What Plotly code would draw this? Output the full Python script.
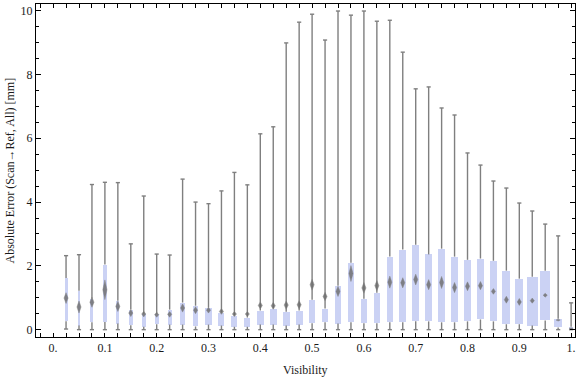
import plotly.graph_objects as go

# ---------------- data ----------------
visibility = [0.025, 0.05, 0.075, 0.1, 0.125, 0.15, 0.175, 0.2, 0.225, 0.25,
              0.275, 0.3, 0.325, 0.35, 0.375, 0.4, 0.425, 0.45, 0.475, 0.5,
              0.525, 0.55, 0.575, 0.6, 0.625, 0.65, 0.675, 0.7, 0.725, 0.75,
              0.775, 0.8, 0.825, 0.85, 0.875, 0.9, 0.925, 0.95, 0.975, 1.0]

whisker_min = [0.02, 0.0, 0.0, 0.0, 0.0, 0.0, 0.0, 0.0, 0.0, 0.0,
               0.0, 0.0, 0.0, 0.0, 0.0, 0.0, 0.0, 0.0, 0.0, 0.0,
               0.0, 0.0, 0.0, 0.0, 0.0, 0.0, 0.0, 0.0, 0.0, 0.0,
               0.0, 0.0, 0.0, 0.0, 0.0, 0.0, 0.0, 0.0, 0.0, 0.0]

q1 = [0.26, 0.13, 0.23, 0.24, 0.19, 0.14, 0.09, 0.17, 0.16, 0.16,
      0.10, 0.16, 0.13, 0.09, 0.09, 0.16, 0.16, 0.13, 0.16, 0.20,
      0.23, 0.19, 0.23, 0.20, 0.20, 0.23, 0.23, 0.26, 0.26, 0.23,
      0.23, 0.26, 0.32, 0.26, 0.17, 0.17, 0.13, 0.29, 0.07, 0.01]

center = [0.99, 0.71, 0.86, 1.25, 0.73, 0.52, 0.49, 0.47, 0.48, 0.68,
          0.61, 0.61, 0.57, 0.49, 0.49, 0.76, 0.75, 0.77, 0.78, 1.41,
          1.04, 1.20, 1.76, 1.31, 1.38, 1.49, 1.47, 1.57, 1.41, 1.48,
          1.32, 1.36, 1.38, 1.20, 0.94, 0.87, 0.91, 1.08, 0.30, 0.04]

center_spread = [0.17, 0.19, 0.16, 0.31, 0.16, 0.11, 0.09, 0.08, 0.09, 0.13,
                 0.11, 0.09, 0.09, 0.08, 0.08, 0.11, 0.11, 0.13, 0.13, 0.17,
                 0.13, 0.16, 0.25, 0.17, 0.16, 0.19, 0.16, 0.17, 0.16, 0.19,
                 0.16, 0.14, 0.13, 0.09, 0.11, 0.11, 0.08, 0.06, 0.03, 0.02]

q3 = [1.62, 1.22, 0.97, 2.04, 0.91, 0.63, 0.50, 0.50, 0.63, 0.85,
      0.75, 0.69, 0.53, 0.44, 0.38, 0.60, 0.66, 0.56, 0.60, 0.94,
      0.66, 1.38, 2.10, 0.97, 1.16, 2.29, 2.51, 2.66, 2.36, 2.54,
      2.29, 2.19, 2.23, 2.16, 1.85, 1.60, 1.66, 1.85, 0.34, 0.09]

whisker_max = [2.32, 2.35, 4.55, 4.62, 4.61, 2.69, 4.19, 2.37, 2.34, 4.72,
               4.00, 3.95, 4.35, 4.93, 4.54, 6.14, 6.36, 8.99, 9.64, 9.89,
               9.08, 9.99, 9.86, 9.99, 9.67, 9.70, 8.70, 7.55, 7.61, 6.95,
               6.73, 5.54, 5.16, 4.66, 4.44, 3.97, 3.72, 3.31, 2.94, 0.84]

# relative sample weight (drives box width)
sample_weight = [0.29, 0.24, 0.29, 0.31, 0.29, 0.38, 0.38, 0.38, 0.38, 0.48,
                 0.54, 0.57, 0.57, 0.57, 0.57, 0.64, 0.67, 0.67, 0.67, 0.60,
                 0.57, 0.57, 0.57, 0.57, 0.57, 0.57, 0.67, 0.67, 0.67, 0.67,
                 0.67, 0.67, 0.67, 0.71, 0.76, 0.76, 1.00, 0.95, 0.76, 0.38]

x_ticks = [0.0, 0.1, 0.2, 0.3, 0.4, 0.5, 0.6, 0.7, 0.8, 0.9, 1.0]
x_tick_text = ["0.", "0.1", "0.2", "0.3", "0.4", "0.5", "0.6", "0.7", "0.8", "0.9", "1."]
y_ticks = [0, 2, 4, 6, 8, 10]
x_title = "Visibility"
y_title = "Absolute Error (Scan\u2192Ref, All) [mm]"

# ---------------- styling ----------------
MAX_BOX_WIDTH = 0.0205
CAP_HALF = 0.004
DIAMOND_HALF = 0.0040
BOX_COLOR = "#cbd2f4"
WHISKER_COLOR = "#7f7f7f"
FONT = "Liberation Serif"
TEXT_COLOR = "#1a1a1a"

fig = go.Figure()

# boxes
fig.add_trace(go.Bar(
    x=visibility,
    y=[b - a for a, b in zip(q1, q3)],
    base=q1,
    width=[w * MAX_BOX_WIDTH for w in sample_weight],
    marker=dict(color=BOX_COLOR, line=dict(width=0)),
    hoverinfo="skip",
))

# whiskers (outside the boxes)
wx, wy = [], []
for x, lo, a, b, hi in zip(visibility, whisker_min, q1, q3, whisker_max):
    wx += [x, x, None, x, x, None]
    wy += [lo, a, None, b, hi, None]
fig.add_trace(go.Scatter(x=wx, y=wy, mode="lines",
                         line=dict(color=WHISKER_COLOR, width=1.4),
                         hoverinfo="skip"))

# whisker caps
cx, cy = [], []
for x, lo, hi in zip(visibility, whisker_min, whisker_max):
    cx += [x - CAP_HALF, x + CAP_HALF, None, x - CAP_HALF, x + CAP_HALF, None]
    cy += [hi, hi, None, lo, lo, None]
fig.add_trace(go.Scatter(x=cx, y=cy, mode="lines",
                         line=dict(color=WHISKER_COLOR, width=1.4),
                         hoverinfo="skip"))

# centre diamonds
dx, dy = [], []
for x, m, s in zip(visibility, center, center_spread):
    dx += [x - DIAMOND_HALF, x, x + DIAMOND_HALF, x, x - DIAMOND_HALF, None]
    dy += [m, m + s, m, m - s, m, None]
fig.add_trace(go.Scatter(x=dx, y=dy, mode="lines", fill="toself",
                         fillcolor="rgba(105,105,105,0.8)",
                         line=dict(color="rgba(130,130,130,0.45)", width=1),
                         hoverinfo="skip"))

axis_common = dict(
    showline=True, linecolor="black", linewidth=1, mirror="ticks",
    ticks="inside", tickcolor="black", showgrid=False, zeroline=False,
    automargin=False, ticklabeloverflow="allow",
    tickfont=dict(family=FONT, size=12, color=TEXT_COLOR),
)

fig.update_xaxes(
    range=[-0.033, 1.0075],
    tickvals=x_ticks, ticktext=x_tick_text, ticklen=4,
    minor=dict(dtick=0.025, tick0=0, ticks="inside", ticklen=4, tickcolor="black"),
    **axis_common,
)
fig.update_yaxes(
    range=[-0.23, 10.21],
    tickvals=y_ticks, ticklen=5,
    minor=dict(dtick=0.5, tick0=0, ticks="inside", ticklen=3, tickcolor="black"),
    **axis_common,
)

fig.add_annotation(text=x_title, xref="paper", yref="paper", x=0.5, y=0,
                   xanchor="center", yanchor="top", yshift=-24, showarrow=False,
                   font=dict(family=FONT, size=12, color=TEXT_COLOR))
fig.add_annotation(text=y_title, xref="paper", yref="paper", x=0, y=0.5,
                   xanchor="center", yanchor="middle", xshift=-27, textangle=-90,
                   showarrow=False, font=dict(family=FONT, size=12, color=TEXT_COLOR))

fig.update_layout(
    width=576, height=377,
    margin=dict(l=36, r=1, t=4, b=40),
    paper_bgcolor="white", plot_bgcolor="white",
    showlegend=False, bargap=0,
)

fig.write_html(
    "out.html",
    config={"displayModeBar": False},
    post_script="document.body.style.margin='0';document.body.style.padding='0';",
)
